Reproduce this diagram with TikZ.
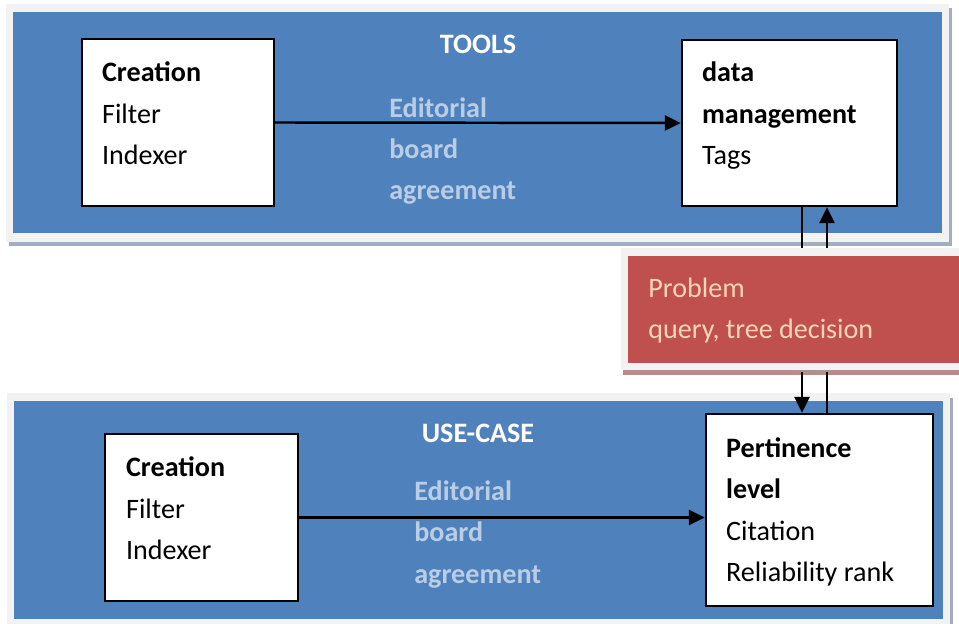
\documentclass[tikz,border=0pt]{standalone}
\usepackage{fontspec}
\setmainfont{Carlito}
\usetikzlibrary{arrows.meta,calc,fit}

\definecolor{panelblue}{HTML}{4F81BD}
\definecolor{panelframe}{HTML}{F2F2F2}
\definecolor{panelshadow}{HTML}{A2ADBD}
\definecolor{probred}{HTML}{C0504D}
\definecolor{probshadow}{HTML}{B78C8D}
\definecolor{probtext}{HTML}{FBD5B5}
\definecolor{notetext}{HTML}{B9CDE5}

% multi-line texts are placed by the baseline of their last line
\tikzset{
  box/.style={draw=black, line width=1.4pt, fill=white, inner sep=0pt},
  txt/.style={anchor=base west, align=left, inner sep=0pt,
    font=\fontsize{16}{23.6}\selectfont},
  title/.style={text=white, inner sep=0pt, font=\fontsize{16}{20}\selectfont\bfseries},
  note/.style={txt, text=notetext, font=\fontsize{16}{23.6}\selectfont\bfseries},
  flow/.style={line width=1.4pt, -{Triangle[length=9pt,width=8.5pt]}},
  link/.style={line width=1.4pt}
}

\begin{document}
\begin{tikzpicture}[x=0.02cm, y=-0.02cm]
  \clip (0,0) rectangle (959,624);
  \fill[white] (0,0) rectangle (959,624);

  % tools panel
  \fill[panelshadow] (9,8) rectangle (952,246);
  \fill[panelframe] (6,4) rectangle (949,242);
  \fill[panelblue] (13,12) rectangle (942,233);

  % use-case panel
  \fill[panelshadow] (10,398) rectangle (953,630);
  \fill[panelframe] (7,393) rectangle (950,630);
  \fill[panelblue] (14,401) rectangle (943,619);

  % problem box
  \fill[probshadow] (623,252) rectangle (965,375);
  \node[fill=panelframe, inner sep=0pt, fit={(621,248) (962,370)}] (prob) {};
  \fill[probred] (628,256) rectangle (965,363);
  \node[txt, text=probtext] at (648,339) {Problem\\query, tree decision};

  \node[title] at (478,44) {TOOLS};
  \node[title] at (478,433) {USE-CASE};

  % boxes
  \node[box, fit={(82,39) (274,206)}] (crt1) {};
  \node[box, fit={(682,40) (897,206)}] (dm) {};
  \node[box, fit={(105,434) (298,601)}] (crt2) {};
  \node[box, fit={(706,414) (933,606)}] (pl) {};

  \node[txt] at ($(crt1.north west)+(21,127)$) {\textbf{Creation}\\Filter\\Indexer};
  \node[txt] at ($(dm.north west)+(21,126)$) {\textbf{data}\\\textbf{management}\\Tags};
  \node[txt] at ($(crt2.north west)+(22,127)$) {\textbf{Creation}\\Filter\\Indexer};
  \node[txt] at ($(pl.north west)+(21,169)$) {\textbf{Pertinence}\\\textbf{level}\\Citation\\Reliability rank};

  \node[note] at (389,200) {Editorial\\board\\agreement};
  \node[note] at (414,583) {Editorial\\board\\agreement};

  % connectors
  \coordinate (down) at (802,0);
  \coordinate (up) at (827,0);

  \draw[flow] (crt1.east) -- (dm.west);
  \draw[flow] (crt2.east) -- (crt2.east -| pl.west);

  \draw[link] (dm.south -| down) -- (prob.north -| down);
  \draw[flow] (prob.north -| up) -- (dm.south -| up);
  \draw[flow] (802,372) -- (pl.north -| down);
  \draw[link] (pl.north -| up) -- (827,372);
\end{tikzpicture}
\end{document}
